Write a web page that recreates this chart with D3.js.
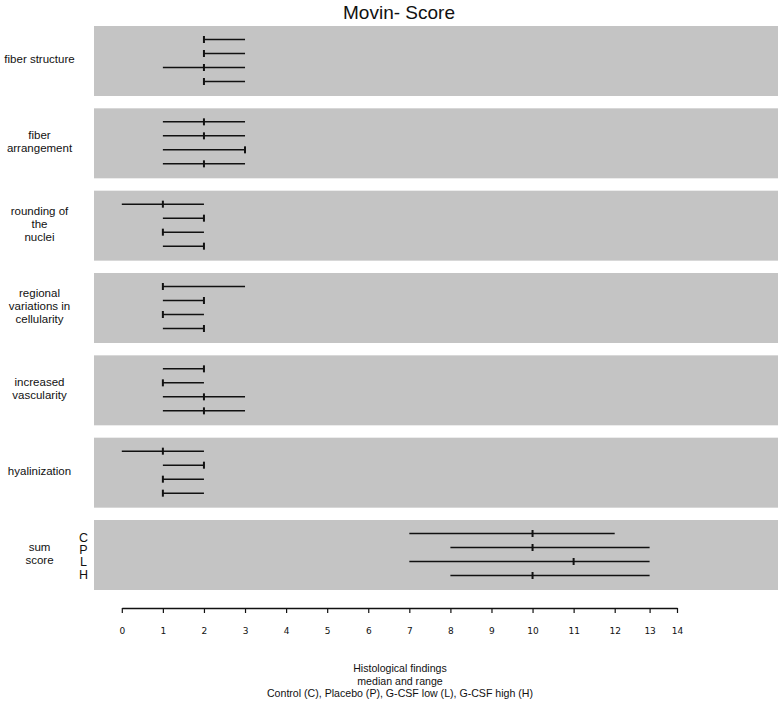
<!DOCTYPE html>
<html>
<head>
<meta charset="utf-8">
<script src="https://cdn.jsdelivr.net/npm/d3@7"></script>
<style>
  body { margin: 0; background: #fff; }
  svg { display: block; }
  text { font-family: "Liberation Sans", Arial, sans-serif; fill: #111; }
</style>
</head>
<body>
<svg id="chart" width="778" height="706"></svg>
<script>
// ---- data ----
const title = "Movin- Score";
const categories = [
  "fiber structure",
  "fiber\narrangement",
  "rounding of\nthe\nnuclei",
  "regional\nvariations in\ncellularity",
  "increased\nvascularity",
  "hyalinization",
  "sum\nscore"
];
const groups = ["C", "P", "L", "H"];
// per category: values for C, P, L, H
const minValues = [
  [2, 2, 1, 2],
  [1, 1, 1, 1],
  [0, 1, 1, 1],
  [1, 1, 1, 1],
  [1, 1, 1, 1],
  [0, 1, 1, 1],
  [7, 8, 7, 8]
];
const medianValues = [
  [2, 2, 2, 2],
  [2, 2, 3, 2],
  [1, 2, 1, 2],
  [1, 2, 1, 2],
  [2, 1, 2, 2],
  [1, 2, 1, 1],
  [10, 10, 11, 10]
];
const maxValues = [
  [3, 3, 3, 3],
  [3, 3, 3, 3],
  [2, 2, 2, 2],
  [3, 2, 2, 2],
  [2, 2, 3, 3],
  [2, 2, 2, 2],
  [12, 13, 13, 13]
];
const tickValues = [0, 1, 2, 3, 4, 5, 6, 7, 8, 9, 10, 11, 12, 13, 14];
const xTitleLines = [
  "Histological findings",
  "median and range",
  "Control (C), Placebo (P), G-CSF low (L), G-CSF high (H)"
];

// ---- layout ----
const svg = d3.select("#chart");
const panelLeft = 94, panelRight = 778;

// axis is non-uniform in the original: 0..12 evenly spaced, 13 and 14 compressed
const x = d3.scaleLinear()
  .domain([0, 12, 13, 14])
  .range([121.8, 614.7, 649.6, 677]);

const y = d3.scaleBand()
  .domain(d3.range(categories.length))
  .range([26, 590])
  .paddingInner(0.15)
  .paddingOuter(0);

const yIn = d3.scalePoint()
  .domain(groups)
  .range([13.5, 55.5]);

// title
svg.append("text")
  .attr("x", 399).attr("y", 19)
  .attr("text-anchor", "middle")
  .style("font-size", "19px")
  .text(title);

// panels
const rows = [];
categories.forEach((c, i) => {
  groups.forEach((g, j) => {
    rows.push({ cat: i, g, min: minValues[i][j], med: medianValues[i][j], max: maxValues[i][j] });
  });
});

svg.selectAll("rect.panel")
  .data(categories)
  .join("rect")
  .attr("class", "panel")
  .attr("x", panelLeft)
  .attr("y", (d, i) => y(i))
  .attr("width", panelRight - panelLeft)
  .attr("height", y.bandwidth())
  .attr("fill", "#c4c4c4");

// category labels
const lineH = 13;
svg.selectAll("text.cat")
  .data(categories)
  .join("text")
  .attr("class", "cat")
  .attr("text-anchor", "middle")
  .style("font-size", "11.5px")
  .each(function (d, i) {
    const lines = d.split("\n");
    const cy = y(i) + y.bandwidth() / 2 - 2;
    const t = d3.select(this);
    lines.forEach((ln, k) => {
      t.append("tspan")
        .attr("x", 39.5)
        .attr("y", cy + (k - (lines.length - 1) / 2) * lineH + 4)
        .text(ln);
    });
  });

// group letters stacked beside the sum score panel (one vertical text)
const last = categories.length - 1;
svg.append("text")
  .attr("class", "grp")
  .attr("x", 83.5)
  .attr("y", y(last) + y.bandwidth() / 2 - 2 * 12)
  .style("writing-mode", "vertical-rl")
  .style("text-orientation", "upright")
  .style("font-size", "12.5px")
  .style("letter-spacing", "-1.8px")
  .text(groups.join(""));

// range lines
svg.selectAll("line.range")
  .data(rows)
  .join("line")
  .attr("class", "range")
  .attr("x1", d => x(d.min))
  .attr("x2", d => x(d.max))
  .attr("y1", d => y(d.cat) + yIn(d.g))
  .attr("y2", d => y(d.cat) + yIn(d.g))
  .attr("stroke", "#111")
  .attr("stroke-width", 1.5);

// median ticks
svg.selectAll("line.med")
  .data(rows)
  .join("line")
  .attr("class", "med")
  .attr("x1", d => x(d.med))
  .attr("x2", d => x(d.med))
  .attr("y1", d => y(d.cat) + yIn(d.g) - 3.5)
  .attr("y2", d => y(d.cat) + yIn(d.g) + 3.5)
  .attr("stroke", "#111")
  .attr("stroke-width", 2);

// x axis
const axisY = 608;
const axisG = svg.append("g")
  .attr("transform", `translate(0,${axisY})`)
  .call(d3.axisBottom(x).tickValues(tickValues).tickSize(5).tickPadding(15).tickFormat(d3.format("d")).tickSizeOuter(0));
axisG.select(".domain").attr("stroke", "#111").attr("stroke-width", 1.5);
axisG.selectAll(".tick line").attr("stroke", "#111").attr("stroke-width", 1.2);
axisG.selectAll(".tick text")
  .style("font-size", "9px")
  .style("font-family", "'DejaVu Sans', sans-serif")
  .attr("fill", "#222");

// x title
svg.selectAll("text.xt")
  .data(xTitleLines)
  .join("text")
  .attr("class", "xt")
  .attr("text-anchor", "middle")
  .attr("x", 400)
  .attr("y", (d, k) => 672 + k * 12.5)
  .style("font-size", "10.6px")
  .text(d => d);
</script>
</body>
</html>
